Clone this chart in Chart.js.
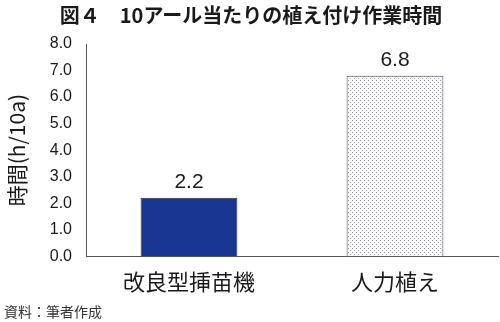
<!DOCTYPE html>
<html><head><meta charset="utf-8">
<script src="https://cdn.jsdelivr.net/npm/chart.js@4"></script>
<style>html,body{margin:0;padding:0;background:#fff}#c{display:block}</style>
</head><body>
<div style="width:500px;height:322px"><canvas id="c" width="500" height="322"></canvas></div>
<script>
const categories = ['改良型挿苗機', '人力植え'];
const hours = [2.2, 6.8];
const yTicks = [0, 1, 2, 3, 4, 5, 6, 7, 8];

const ctx0 = document.getElementById('c').getContext('2d');
function makeDots() {
  const p = document.createElement('canvas');
  p.width = 4; p.height = 4;
  const g = p.getContext('2d');
  g.fillStyle = '#fff'; g.fillRect(0, 0, 4, 4);
  g.fillStyle = '#8f8fb0';
  g.fillRect(0, 0, 1, 1);
  g.fillStyle = '#a8a8c2';
  g.fillRect(2, 2, 1, 1);
  return p;
}
const pat = ctx0.createPattern(makeDots(), 'repeat');

const valueLabels = {
  id: 'valueLabels',
  afterDatasetsDraw(chart) {
    const c = chart.ctx;
    const meta = chart.getDatasetMeta(0);
    c.save();
    c.font = '21px "Liberation Sans", Arial, sans-serif';
    c.fillStyle = '#1a1a1a';
    c.textAlign = 'center';
    c.textBaseline = 'alphabetic';
    meta.data.forEach((el, i) => {
      c.fillText(hours[i].toFixed(1), el.x, el.y - 10);
    });
    c.restore();
  }
};

new Chart(ctx0, {
  type: 'bar',
  data: {
    labels: categories,
    datasets: [{
      data: hours,
      backgroundColor: ['#183591', pat],
      borderColor: ['#333', '#444'],
      borderWidth: 1,
      categoryPercentage: 1,
      barPercentage: 0.47
    }]
  },
  options: {
    responsive: false,
    animation: false,
    devicePixelRatio: 1,
    layout: { padding: { left: 4, right: 2, top: 0, bottom: 2 } },
    plugins: {
      legend: { display: false },
      tooltip: { enabled: false },
      title: {
        display: true,
        text: '図４　10アール当たりの植え付け作業時間',
        font: { family: '"Noto Sans CJK JP", sans-serif', size: 20, weight: 'bold' },
        color: '#1a1a1a',
        padding: { top: 3, bottom: 17 }
      },
      subtitle: {
        display: true,
        position: 'bottom',
        align: 'start',
        text: '資料：筆者作成',
        font: { family: '"Noto Sans CJK JP", sans-serif', size: 14 },
        color: '#333',
        padding: { top: 6, bottom: 0 }
      }
    },
    scales: {
      x: {
        afterFit(axis) { axis.height = 41; },
        grid: { display: false, drawTicks: false },
        border: { display: true, color: '#555', width: 1 },
        ticks: {
          color: '#1a1a1a',
          padding: 12,
          font: { family: '"Noto Sans CJK JP", sans-serif', size: 22 }
        }
      },
      y: {
        min: 0, max: 8,
        afterBuildTicks(axis) { axis.ticks = yTicks.map(v => ({ value: v })); },
        afterFit(axis) { axis.width = 82; },
        grid: { display: false, drawTicks: false },
        border: { display: true, color: '#555', width: 1 },
        ticks: {
          color: '#1a1a1a',
          padding: 14,
          font: { family: '"Liberation Sans", Arial, sans-serif', size: 16 },
          callback: v => Number(v).toFixed(1)
        },
        title: {
          display: true,
          text: '時間(h/10a)',
          color: '#1a1a1a',
          font: { family: '"Noto Sans CJK JP", sans-serif', size: 21 },
          padding: { top: 0, bottom: 0 }
        }
      }
    }
  },
  plugins: [valueLabels]
});
</script>
</body></html>
